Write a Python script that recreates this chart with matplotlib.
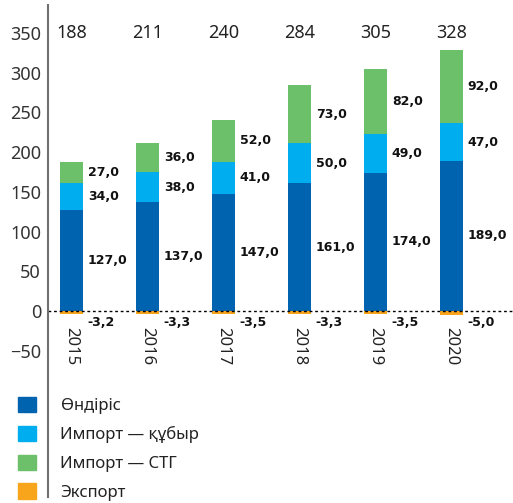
import numpy as np
import matplotlib.pyplot as plt
from matplotlib.patches import Patch

plt.rcParams['font.family'] = ['Noto Sans', 'DejaVu Sans']

years = ['2015', '2016', '2017', '2018', '2019', '2020']
production = [127.0, 137.0, 147.0, 161.0, 174.0, 189.0]
import_pipe = [34.0, 38.0, 41.0, 50.0, 49.0, 47.0]
import_lng = [27.0, 36.0, 52.0, 73.0, 82.0, 92.0]
export = [-3.2, -3.3, -3.5, -3.3, -3.5, -5.0]
labels = ['Өндіріс', 'Импорт — құбыр', 'Импорт — СТГ', 'Экспорт']
colors = ['#0063b0', '#00adee', '#6cc069', '#f8a51b']

def fmt(v):
    return f'{v:.1f}'.replace('.', ',')

x = np.arange(len(years))
w = 0.30
prod = np.array(production)
pipe = np.array(import_pipe)
lng = np.array(import_lng)
exp_ = np.array(export)
totals = prod + pipe + lng

fig = plt.figure(figsize=(5.13, 5.03), dpi=100)
ax = fig.add_axes([48 / 513, 6 / 503, 1 - 48 / 513, 492 / 503])

ax.bar(x, prod, w, color=colors[0])
ax.bar(x, pipe, w, bottom=prod, color=colors[1])
ax.bar(x, lng, w, bottom=prod + pipe, color=colors[2])
ax.bar(x, exp_, w, color=colors[3])

ax.axhline(0, color='black', lw=1, ls=(0, (2, 2)))

lab = dict(fontsize=9, fontweight='bold', va='center', family='DejaVu Sans', color='#111111')
lx = x + w / 2 + 0.065
for i in range(len(years)):
    ax.text(lx[i], prod[i] / 2, fmt(prod[i]), **lab)
    ax.text(lx[i], prod[i] + pipe[i] / 2, fmt(pipe[i]), **lab)
    ax.text(lx[i], prod[i] + pipe[i] + lng[i] / 2, fmt(lng[i]), **lab)
    ax.text(lx[i], -14, fmt(exp_[i]), **lab)
    ax.text(x[i], 350, f'{totals[i]:.0f}', fontsize=13, ha='center', va='center', color='#222222')
    ax.text(x[i], -20, years[i], fontsize=12, rotation=270, ha='center', va='top', color='#222222')

ax.set_xlim(-0.309, 5.81)
ax.set_ylim(-234, 385)
ax.set_yticks(range(-50, 351, 50))
ax.tick_params(axis='y', length=0, pad=5, labelsize=13, labelcolor='#333333')
ax.set_xticks([])
for s in ['top', 'right', 'bottom']:
    ax.spines[s].set_visible(False)
ax.spines['left'].set_color('#707070')
ax.spines['left'].set_linewidth(1.5)

handles = [Patch(color=c) for c in colors]
fig.legend(handles, labels, loc='upper left', bbox_to_anchor=(18 / 513, 1 - 397 / 503),
           frameon=False, fontsize=12, handlelength=1.05, handleheight=1.05,
           handletextpad=1.5, labelspacing=0.68, borderpad=0, borderaxespad=0,
           labelcolor='#222222')

fig.savefig('out.png', dpi=100)
